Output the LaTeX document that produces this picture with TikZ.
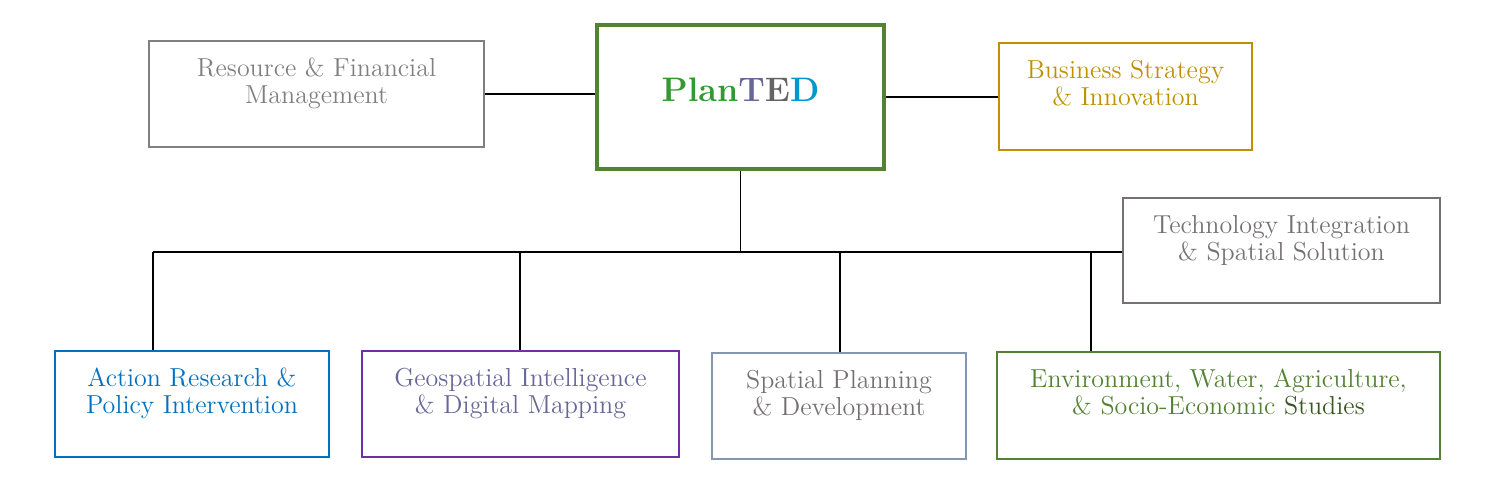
\documentclass[tikz,border=0pt]{standalone}
\usetikzlibrary{positioning,calc}

\definecolor{boxgray}{RGB}{128,128,128}
\definecolor{techgray}{RGB}{118,113,113}
\definecolor{leafgreen}{RGB}{84,130,53}
\definecolor{darkgreen}{RGB}{56,87,35}
\definecolor{gold}{RGB}{191,144,0}
\definecolor{actblue}{RGB}{0,112,192}
\definecolor{geopurple}{RGB}{112,48,160}
\definecolor{geotext}{RGB}{102,102,153}
\definecolor{spablue}{RGB}{132,151,176}
\definecolor{plangreen}{RGB}{51,153,51}
\definecolor{tpurple}{RGB}{102,102,153}
\definecolor{egray}{RGB}{100,100,100}
\definecolor{dblue}{RGB}{0,153,204}

\begin{document}
\begin{tikzpicture}[x=0.5pt,y=-0.5pt,
	box/.style 2 args={draw=#1,line width=1.2pt,minimum width=#2,minimum height=53pt,inner sep=0pt},
	txt/.style={text=#1,align=center,anchor=north,inner sep=0pt,yshift=-9pt,font=\fontsize{13}{13.5}\selectfont},
	link/.style={draw=black,line width=0.9pt}]
\useasboundingbox (0,0) rectangle (1488,497);

% top row
\node[box={boxgray}{167.5pt}] (res) at (316.5,94) {};
\node[box={leafgreen}{143.5pt},minimum height=72pt,line width=1.8pt] (plan) at (740.5,97) {};
\node[box={gold}{126.5pt},minimum height=53.5pt] (bus) at (1125.5,96.5) {};
\node[box={techgray}{158.5pt},minimum height=52.5pt] (tech) at (1281.5,250.5) {};

% bottom row
\node[box={actblue}{137pt}] (act) at (192,404) {};
\node[box={geopurple}{158.5pt}] (geo) at (520.5,404) {};
\node[box={spablue}{127pt}] (spa) at (839,406) {};
\node[box={leafgreen}{221.5pt},minimum height=53.5pt] (env) at (1218.5,405.5) {};

% texts
\node[inner sep=0pt,font=\fontsize{17}{20}\selectfont\bfseries] (plan-t) at ($(plan.center)+(0,-7)$)
	{\textcolor{plangreen}{Plan}\textcolor{tpurple}{T}\textcolor{egray}{E}\textcolor{dblue}{D}};
\node[txt=boxgray] (res-t) at (res.north) {Resource \& Financial\\Management};
\node[txt=gold] (bus-t) at (bus.north) {Business Strategy\\\& Innovation};
\node[txt=techgray] (tech-t) at (tech.north) {Technology Integration\\\& Spatial Solution};
\node[txt=actblue] (act-t) at (act.north) {Action Research \&\\Policy Intervention};
\node[txt=geotext] (geo-t) at (geo.north) {Geospatial Intelligence\\\& Digital Mapping};
\node[txt=techgray] (spa-t) at (spa.north) {Spatial Planning\\\& Development};
\node[txt=leafgreen] (env-t) at (env.north) {Environment, Water, Agriculture,\\\& Socio-Economic \textcolor{darkgreen}{Studies}};

% connectors
\draw[link] (res.east) -- (res.east -| plan.west);
\draw[link] (plan.east) -- (plan.east -| bus.west);
\coordinate (hub) at (740.5,252);
\coordinate (busL) at (153,252);
\draw[link] (plan.south) -- (hub);
\draw[link] (busL) -- (busL -| tech.west);
\foreach \b/\x in {act/153,geo/520,spa/840,env/1091}{
	\coordinate (d\b) at (\x,252);
	\draw[link] (d\b) -- (d\b |- \b.north);
}

\end{tikzpicture}
\end{document}
